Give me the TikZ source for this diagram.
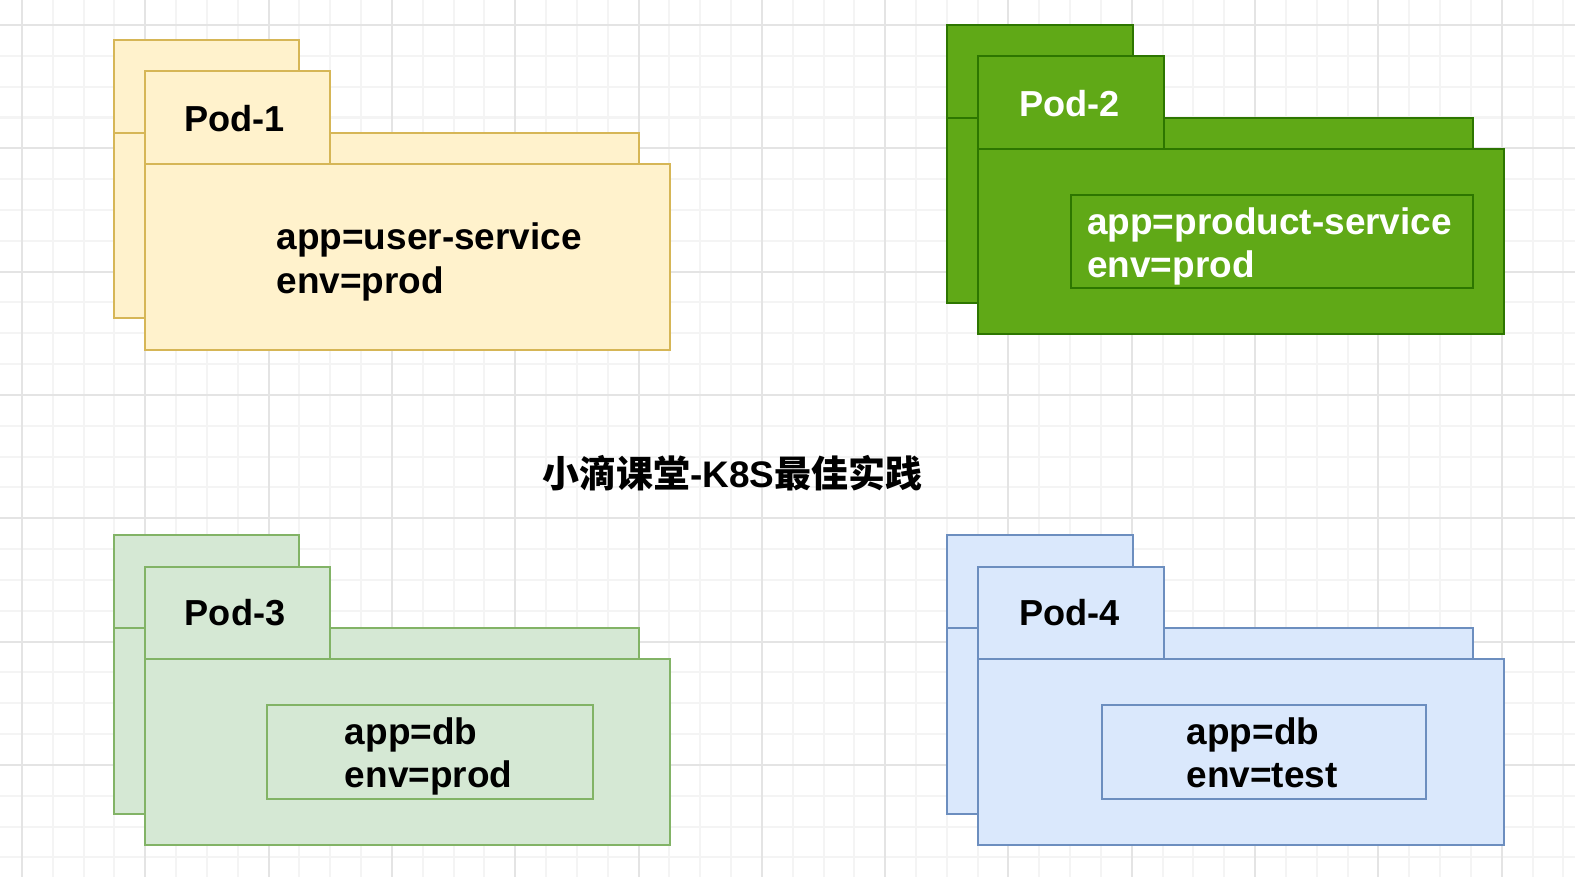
\documentclass[tikz,border=0pt]{standalone}
\usepackage{fontspec}
\setmainfont{Liberation Sans}
\newfontfamily\cjkfont{Noto Sans CJK SC}
\definecolor{ylwF}{HTML}{FFF2CC}\definecolor{ylwD}{HTML}{D6B656}
\definecolor{grnF}{HTML}{60A917}\definecolor{grnD}{HTML}{2D7600}
\definecolor{lgrF}{HTML}{D5E8D4}\definecolor{lgrD}{HTML}{82B366}
\definecolor{bluF}{HTML}{DAE8FC}\definecolor{bluD}{HTML}{6C8EBF}
\definecolor{gridMaj}{HTML}{E4E4E4}\definecolor{gridMin}{HTML}{F4F4F4}
\tikzset{
  podpart/.style={line width=1pt},
  yellowpod/.style={fill=ylwF, draw=ylwD},
  greenpod/.style={fill=grnF, draw=grnD},
  lightpod/.style={fill=lgrF, draw=lgrD},
  bluepod/.style={fill=bluF, draw=bluD},
  lbl/.style={font=\fontsize{18.4}{22}\selectfont\bfseries, inner sep=0pt, anchor=base west},
  podname/.style={font=\fontsize{18}{22}\selectfont\bfseries, inner sep=0pt, anchor=base},
}
\newcommand\podstack[3]{%
  \begin{scope}[shift={(#1,#2)}]
    \draw[podpart,#3] (0,0) rectangle (185,92);
    \draw[podpart,#3] (0,92) rectangle (523,277);
    \draw[podpart,#3] (31,31) rectangle (216,123);
    \draw[podpart,#3] (31,123) rectangle (554,308);
  \end{scope}}
\begin{document}
\begin{tikzpicture}[x=0.5pt,y=-0.5pt]
\useasboundingbox (0,0) rectangle (1568,873);
\fill[white] (0,0) rectangle (1568,873);
\begin{scope}
\clip (0,0) rectangle (1568,873);
\foreach \i in {0,...,52} \draw[gridMin, line width=1pt] ({21.9+(\i-1)*30.69},0) -- ({21.9+(\i-1)*30.69},873);
\foreach \j in {0,...,30} \draw[gridMin, line width=1pt] (0,{24.9+(\j-1)*30.69}) -- (1568,{24.9+(\j-1)*30.69});
\foreach \i in {0,...,12} \draw[gridMaj, line width=1pt] ({21.9+\i*122.76},0) -- ({21.9+\i*122.76},873);
\foreach \j in {0,...,7} \draw[gridMaj, line width=1pt] (0,{24.9+\j*122.76}) -- (1568,{24.9+\j*122.76});
\end{scope}

% Pod-1
\podstack{113}{40}{yellowpod}
\node[podname] (pod1) at (233.5,131) {Pod-1};
\node[lbl] (pod1a) at (275,248) {app=user-service};
\node[lbl] (pod1b) at (275,292) {env=prod};

% Pod-2
\podstack{943}{25}{greenpod}
\draw[podpart,greenpod] (1066,194) rectangle (1466,287);
\node[podname, text=white] (pod2) at (1064.5,116) {Pod-2};
\node[lbl, text=white] (pod2a) at (1082,233) {app=product-service};
\node[lbl, text=white] (pod2b) at (1082,276) {env=prod};

% Pod-3
\podstack{113}{533}{lightpod}
\draw[podpart,lightpod] (266,702) rectangle (590,795);
\node[podname] (pod3) at (234,623) {Pod-3};
\node[lbl] (pod3a) at (343,741) {app=db};
\node[lbl] (pod3b) at (343,784) {env=prod};

% Pod-4
\podstack{943}{533}{bluepod}
\draw[podpart,bluepod] (1097,702) rectangle (1420,795);
\node[podname] (pod4) at (1064.5,623) {Pod-4};
\node[lbl] (pod4a) at (1181,741) {app=db};
\node[lbl] (pod4b) at (1181,784) {env=test};

% title
\node[inner sep=0pt, anchor=base, font=\fontsize{18.4}{22}\selectfont\bfseries] (title) at (729,485)
  {{\cjkfont\bfseries 小滴课堂}-K8S{\cjkfont\bfseries 最佳实践}};
\end{tikzpicture}
\end{document}
